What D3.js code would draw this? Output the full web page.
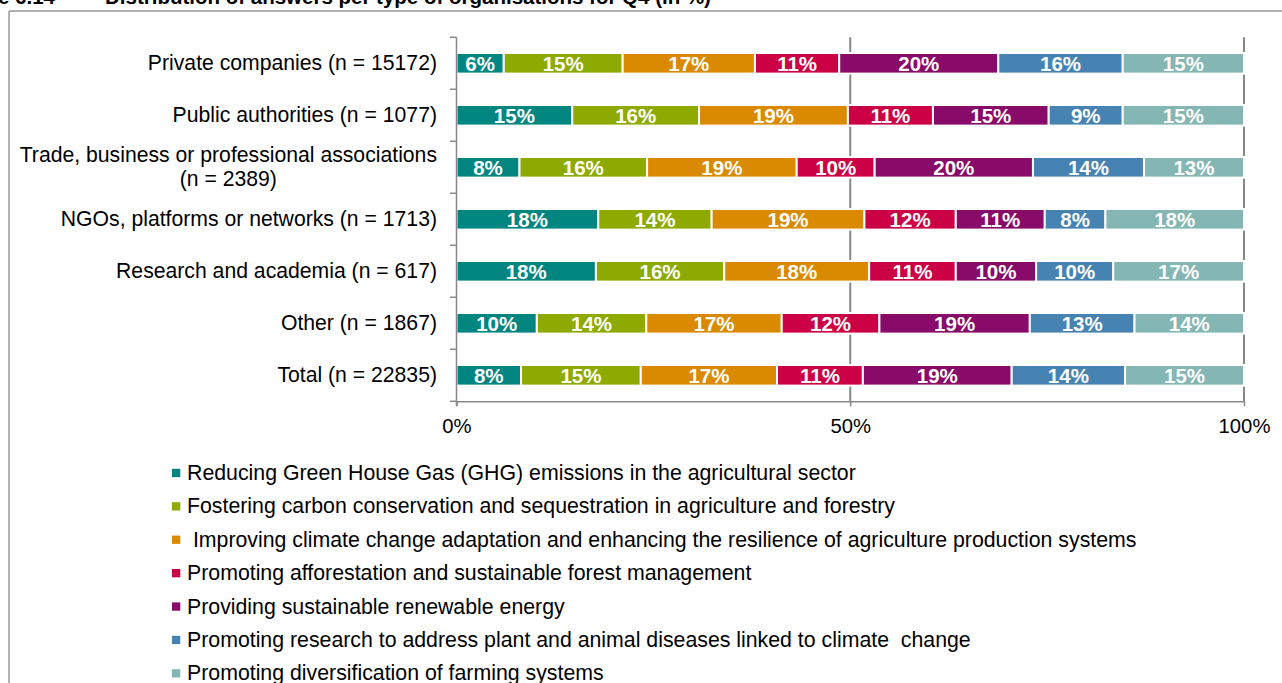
<!DOCTYPE html>
<html>
<head>
<meta charset="utf-8">
<script src="https://cdn.jsdelivr.net/npm/d3@7"></script>
<style>
  html, body { margin: 0; padding: 0; background: #fff; overflow: hidden; }
  svg { display: block; font-family: Arial, "Liberation Sans", sans-serif; }
</style>
</head>
<body>
<svg id="chart" width="1282" height="683"></svg>
<script>
// ---- data ----
const categories = [
  "Private companies (n = 15172)",
  "Public authorities (n = 1077)",
  "Trade, business or professional associations (n = 2389)",
  "NGOs, platforms or networks (n = 1713)",
  "Research and academia (n = 617)",
  "Other (n = 1867)",
  "Total (n = 22835)"
];
const seriesNames = [
  "Reducing Green House Gas (GHG) emissions in the agricultural sector",
  "Fostering carbon conservation and sequestration in agriculture and forestry",
  " Improving climate change adaptation and enhancing the resilience of agriculture production systems",
  "Promoting afforestation and sustainable forest management",
  "Providing sustainable renewable energy",
  "Promoting research to address plant and animal diseases linked to climate  change",
  "Promoting diversification of farming systems"
];
const reducingGHG     = [6.0, 14.7, 8.0, 18.0, 17.7, 10.2, 8.2];
const carbonSeq       = [15.1, 16.1, 16.2, 14.4, 16.3, 13.9, 15.2];
const adaptation      = [16.8, 18.9, 19.0, 19.4, 18.4, 17.2, 17.3];
const afforestation   = [10.7, 10.8, 9.9, 11.6, 11.0, 12.4, 10.9];
const renewable       = [20.2, 14.7, 20.1, 11.3, 10.2, 19.1, 18.9];
const research        = [15.8, 9.4, 14.1, 7.7, 9.8, 13.3, 14.4];
const diversification = [15.4, 15.4, 12.7, 17.6, 16.6, 13.9, 15.1];
const xTicks = [0, 50, 100];
const colors = ["#008580", "#8eaa00", "#da8a00", "#cc0044", "#880a69", "#4683b3", "#84b6b3"];

const seriesValues = [reducingGHG, carbonSeq, adaptation, afforestation, renewable, research, diversification];
const table = categories.map((c, i) => {
  const row = { category: c };
  seriesNames.forEach((s, j) => row[s] = seriesValues[j][i]);
  return row;
});

// ---- layout ----
const svg = d3.select("#chart");
const FS_BAR = 20.5, FS_TICK = 20.3, FS_CAT = 21.2, FS_LEG = 21.3, FS_TITLE = 20.5;
const gridColor = "#888888";

const x = d3.scaleLinear().domain([0, 100]).range([456.5, 1244]);
const y = d3.scaleBand().domain(categories).range([37.3, 401.3]).padding(0);
const barH = 20.6;

// frame
svg.append("line").attr("x1", 9).attr("x2", 1282).attr("y1", 11).attr("y2", 11)
  .attr("stroke", "#9a9a9a").attr("stroke-width", 1.5);
svg.append("line").attr("x1", 9).attr("x2", 9).attr("y1", 11).attr("y2", 683)
  .attr("stroke", "#9a9a9a").attr("stroke-width", 1.5);

// title (mostly cut off at top, as in the source)
svg.append("text").attr("x", 55).attr("y", 4).attr("text-anchor", "end")
  .attr("font-weight", "bold").attr("font-size", FS_TITLE).text("Figure 6.14");
svg.append("text").attr("x", 105).attr("y", 4)
  .attr("font-weight", "bold").attr("font-size", FS_TITLE)
  .text("Distribution of answers per type of organisations for Q4 (in %)");

// gridlines
svg.append("g").selectAll("line").data(xTicks.filter(d => d > 0)).join("line")
  .attr("x1", d => x(d)).attr("x2", d => x(d))
  .attr("y1", y.range()[0]).attr("y2", y.range()[1])
  .attr("stroke", gridColor).attr("stroke-width", 2);

// stacked bars
const stack = d3.stack().keys(seriesNames)(table);
const gBars = svg.append("g");
stack.forEach((layer, j) => {
  const g = gBars.append("g");
  g.selectAll("rect").data(layer).join("rect")
    .attr("x", d => x(d[0]))
    .attr("width", d => x(d[1]) - x(d[0]))
    .attr("y", d => y(d.data.category) + y.bandwidth() / 2 - barH / 2)
    .attr("height", barH)
    .attr("fill", colors[j])
    .attr("stroke", "#fff").attr("stroke-width", 2);
  g.selectAll("text").data(layer).join("text")
    .attr("x", d => (x(d[0]) + x(d[1])) / 2)
    .attr("y", d => y(d.data.category) + y.bandwidth() / 2 + 7.6)
    .attr("text-anchor", "middle")
    .attr("fill", "#fff").attr("font-weight", "bold").attr("font-size", FS_BAR)
    .text(d => d3.format(".0f")(d[1] - d[0]) + "%");
});

// y axis (line + boundary ticks)
const yAxisG = svg.append("g").attr("stroke", gridColor).attr("stroke-width", 1.5);
yAxisG.append("line").attr("x1", x(0)).attr("x2", x(0))
  .attr("y1", y.range()[0]).attr("y2", y.range()[1] + 5);
const bounds = categories.map(c => y(c)).concat([y.range()[1]]);
yAxisG.selectAll("line.tk").data(bounds).join("line").attr("class", "tk")
  .attr("x1", x(0) - 6.5).attr("x2", x(0)).attr("y1", d => d).attr("y2", d => d);

// x axis
const xAxis = d3.axisBottom(x).tickValues(xTicks).tickFormat(d => d + "%")
  .tickSize(5).tickSizeOuter(0).tickPadding(12);
const xg = svg.append("g").attr("transform", `translate(0,${y.range()[1]})`).call(xAxis);
xg.select(".domain").attr("stroke", gridColor).attr("stroke-width", 1.5);
xg.selectAll(".tick line").attr("stroke", gridColor).attr("stroke-width", 1.5);
xg.selectAll(".tick text").attr("font-size", FS_TICK).attr("fill", "#000")
  .attr("font-family", "Arial, 'Liberation Sans', sans-serif");

// category labels (wrapped, centred block, right aligned)
const labelRight = 437;
const maxLabelW = 430;
const measure = svg.append("text").attr("font-size", FS_CAT).attr("visibility", "hidden");
function textW(t) { measure.text(t); return measure.node().getComputedTextLength(); }
categories.forEach(c => {
  const words = c.split(" ");
  const lines = [];
  let cur = "";
  words.forEach(w => {
    const trial = cur ? cur + " " + w : w;
    if (textW(trial) > maxLabelW && cur) { lines.push(cur); cur = w; } else cur = trial;
  });
  lines.push(cur);
  const widths = lines.map(textW);
  const blockW = d3.max(widths);
  const cy = y(c) + y.bandwidth() / 2;
  const lh = 24;
  const t = svg.append("text").attr("font-size", FS_CAT).attr("fill", "#000")
    .attr("text-anchor", lines.length > 1 ? "middle" : "end");
  lines.forEach((ln, k) => {
    t.append("tspan")
      .attr("x", lines.length > 1 ? labelRight - blockW / 2 : labelRight)
      .attr("y", cy + (k - (lines.length - 1) / 2) * lh + 7)
      .text(ln);
  });
});
measure.remove();

// legend
const legend = svg.append("g");
seriesNames.forEach((s, i) => {
  const cy = 473 + i * 33.4;
  legend.append("rect").attr("x", 172).attr("y", cy - 4.2).attr("width", 8.3).attr("height", 8.3)
    .attr("fill", colors[i]);
  legend.append("text").attr("x", 187).attr("y", cy + 7).attr("font-size", FS_LEG)
    .attr("fill", "#000").attr("xml:space", "preserve").style("white-space", "pre").text(s);
});
</script>
</body>
</html>
